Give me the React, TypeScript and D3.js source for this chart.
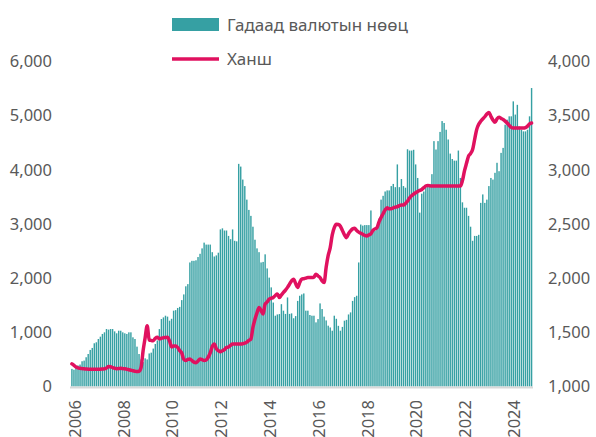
import React from 'react';
import * as d3 from 'd3';

// Monthly foreign exchange reserves (mln USD), Jan 2006 – Nov 2024
const reserves: number[] = [
  325, 310, 344, 387, 405, 466, 478, 540, 600, 675, 712, 798,
  816, 877, 920, 970, 1000, 1061, 1050, 1061, 1061, 1018, 982, 1030,
  1030, 1000, 982, 970, 1000, 1000, 908, 877, 736, 600, 500, 450,
  520, 500, 610, 625, 700, 785, 850, 1060, 1245, 1276, 1307, 1290,
  1215, 1250, 1400, 1410, 1450, 1470, 1595, 1700, 1850, 1890, 2290, 2320,
  2320, 2330, 2390, 2450, 2550, 2656, 2620, 2620, 2620, 2480, 2400, 2420,
  2470, 2900, 2920, 2880, 2880, 2780, 2720, 2900, 2690, 2680, 4110, 4060,
  3820, 3700, 3450, 3260, 3150, 2950, 2710, 2550, 2480, 2290, 2300, 2440,
  2180, 2010, 1830, 1550, 1307, 1330, 1337, 1520, 1400, 1340, 1644, 1340,
  1350, 1260, 1300, 1580, 1675, 1700, 1718, 1400, 1400, 1320, 1307, 1307,
  1184, 1245, 1534, 1430, 1290, 1220, 1123, 1090, 1030, 1307, 1250, 1120,
  1030, 1100, 1215, 1230, 1330, 1368, 1580, 1650, 1675, 2290, 2990, 2970,
  2980, 2980, 2980, 3250, 2850, 2875, 2930, 3100, 3450, 3520, 3600, 3620,
  3620, 3700, 3740, 3680, 4100, 3680, 3830, 3700, 3670, 4380, 4356, 4356,
  4370, 4100, 3850, 3210, 3560, 3600, 3670, 3700, 3740, 3920, 4530, 4375,
  4530, 4700, 4900, 4865, 4740, 4560, 4300, 4200, 4170, 4170, 4356, 3850,
  3400, 3300, 3300, 3150, 2950, 2690, 2780, 2780, 2800, 3390, 3546, 3390,
  3450, 3700, 3850, 3820, 3945, 4130, 3975, 4313, 4405, 4834, 4926, 4988,
  4988, 5264, 5020, 5200, 4800, 4740, 4710, 4710, 4740, 4988, 5510,
];

// Monthly exchange rate (MNT per USD)
const rate: number[] = [
  1209, 1195, 1180, 1172, 1168, 1165, 1163, 1162, 1160, 1160, 1160, 1160,
  1160, 1160, 1160, 1162, 1163, 1170, 1184, 1182, 1175, 1168, 1165, 1166,
  1168, 1165, 1163, 1160, 1155, 1150, 1145, 1141, 1138, 1140, 1175, 1330,
  1450, 1561, 1430, 1425, 1423, 1445, 1454, 1440, 1445, 1450, 1452, 1454,
  1420, 1365, 1375, 1375, 1360, 1330, 1310, 1250, 1240, 1250, 1255, 1240,
  1225, 1220, 1235, 1255, 1248, 1240, 1245, 1270, 1310, 1370, 1393, 1350,
  1331, 1320, 1330, 1340, 1360, 1365, 1380, 1393, 1393, 1393, 1393, 1393,
  1395, 1400, 1410, 1425, 1439, 1546, 1620, 1680, 1730, 1700, 1669, 1761,
  1780, 1807, 1815, 1822, 1840, 1853, 1822, 1845, 1868, 1890, 1915, 1945,
  1975, 1991, 1950, 1914, 1960, 1991, 1995, 2000, 2006, 2006, 2006, 2010,
  2037, 2020, 2006, 1975, 1960, 2100, 2210, 2282, 2400, 2466, 2497, 2495,
  2480, 2440, 2400, 2374, 2410, 2436, 2455, 2460, 2440, 2425, 2415, 2405,
  2395, 2390, 2400, 2410, 2442, 2455, 2466, 2520, 2560, 2595, 2630, 2650,
  2640, 2640, 2648, 2655, 2660, 2670, 2675, 2675, 2690, 2710, 2740, 2760,
  2775, 2788, 2800, 2810, 2819, 2835, 2850, 2856, 2852, 2850, 2850, 2850,
  2850, 2850, 2850, 2850, 2850, 2850, 2850, 2850, 2850, 2850, 2850, 2850,
  2900, 2990, 3060, 3126, 3150, 3187, 3280, 3371, 3420, 3448, 3470, 3490,
  3515, 3530, 3494, 3460, 3439, 3470, 3485, 3475, 3465, 3450, 3432, 3410,
  3392, 3386, 3386, 3386, 3386, 3386, 3386, 3390, 3402, 3425, 3432,
];

const startYear = 2006;
const months: string[] = reserves.map(
  (_, i) => `${startYear + Math.floor(i / 12)}-${String((i % 12) + 1).padStart(2, '0')}`
);
const yearLabels: string[] = ['2006', '2008', '2010', '2012', '2014', '2016', '2018', '2020', '2022', '2024'];
const leftTicks: number[] = [0, 1000, 2000, 3000, 4000, 5000, 6000];
const rightTicks: number[] = [1000, 1500, 2000, 2500, 3000, 3500, 4000];
const seriesNames: string[] = ['Гадаад валютын нөөц', 'Ханш'];

const W = 596;
const H = 437;
const FONT = "'Segoe UI', 'Noto Sans', sans-serif";
const TEAL = '#36a0a3';
const RED = '#e0115f';
const TXT = '#595959';

export default function App() {
  const x = d3
    .scaleBand<string>()
    .domain(months)
    .range([71, 532.5])
    .paddingInner(0.3)
    .paddingOuter(0.1);
  const yL = d3.scaleLinear().domain([0, 6000]).range([386.5, 61.5]);
  const yR = d3.scaleLinear().domain([1000, 4000]).range([386.5, 61.5]);
  const bw = x.bandwidth();
  const cx = (i: number) => (x(months[i]) as number) + bw / 2;

  const linePath = d3
    .line<number>()
    .x((_, i) => cx(i))
    .y((d) => yR(d))
    .curve(d3.curveMonotoneX)(rate) as string;

  const fmt = d3.format(',');

  return (
    <svg
      width={W}
      height={H}
      style={{ position: 'absolute', left: 0, top: 0, background: '#fff' }}
      fontFamily={FONT}
    >
      {/* bars */}
      <g>
        {reserves.map((v, i) => (
          <rect
            key={i}
            x={x(months[i]) as number}
            y={yL(v)}
            width={bw}
            height={yL(0) - yL(v)}
            fill={TEAL}
          />
        ))}
      </g>
      {/* baseline */}
      <line x1={70} x2={533} y1={387.5} y2={387.5} stroke="#d9d9d9" strokeWidth={2} />
      {/* line */}
      <path d={linePath} fill="none" stroke={RED} strokeWidth={3.5} strokeLinejoin="round" strokeLinecap="round" />

      {/* left axis */}
      {leftTicks.map((t) => (
        <text key={'l' + t} x={52} y={yL(t)} dy="0.35em" textAnchor="end" fontSize={16.5} fill={TXT}>
          {fmt(t)}
        </text>
      ))}
      {/* right axis */}
      {rightTicks.map((t) => (
        <text key={'r' + t} x={548} y={yR(t)} dy="0.35em" textAnchor="start" fontSize={16.5} fill={TXT}>
          {fmt(t)}
        </text>
      ))}
      {/* x labels */}
      {yearLabels.map((yl) => {
        const idx = months.indexOf(`${yl}-01`);
        const px = cx(idx) + 3;
        return (
          <text
            key={yl}
            transform={`translate(${px},400) rotate(-90)`}
            dy="0.35em"
            textAnchor="end"
            fontSize={16.5}
            fill={TXT}
          >
            {yl}
          </text>
        );
      })}

      {/* legend */}
      <rect x={172} y={18} width={47} height={13} fill={TEAL} />
      <text x={227} y={25.5} dy="0.35em" fontSize={17} fill={TXT}>
        {seriesNames[0]}
      </text>
      <line x1={172} x2={219} y1={59} y2={59} stroke={RED} strokeWidth={3.5} />
      <text x={227} y={59} dy="0.35em" fontSize={17} fill={TXT}>
        {seriesNames[1]}
      </text>
    </svg>
  );
}
